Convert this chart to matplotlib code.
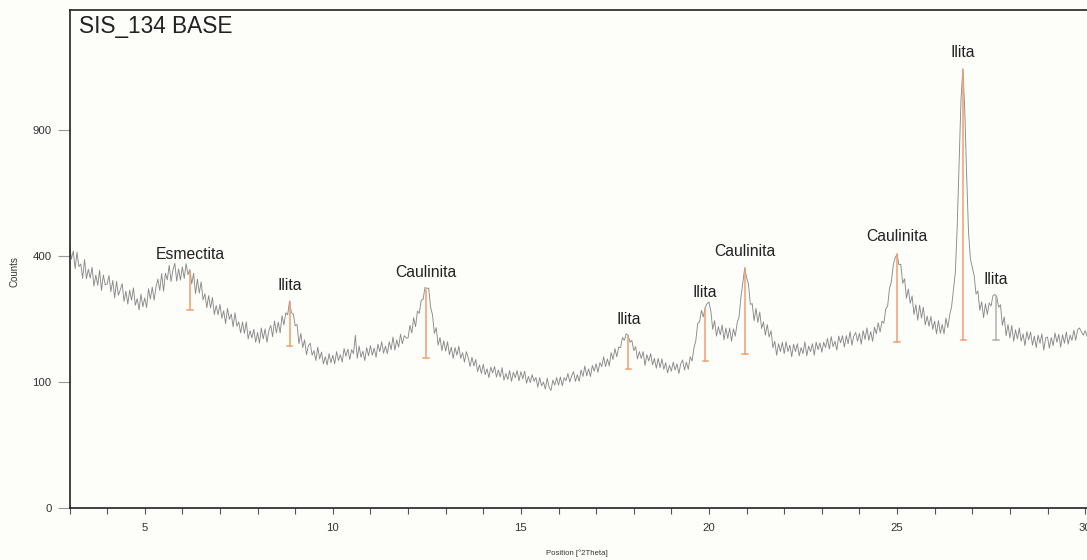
import matplotlib
matplotlib.use("Agg")
import matplotlib.pyplot as plt
import numpy as np

plt.rcParams['font.family'] = ['Liberation Sans', 'DejaVu Sans']

# scan grid (step 0.05 deg 2theta)
two_theta = np.round(np.arange(3.0, 30.051, 0.05), 2)

# counts, one row per degree
counts = [
    445, 390, 416, 361, 412, 367, 375, 332, 389, 331, 359, 333, 365, 310, 342, 312, 356, 298, 342, 314,  # 3
    316, 340, 295, 326, 278, 324, 285, 300, 317, 269, 296, 262, 299, 272, 305, 259, 276, 247, 288, 255,  # 4
    278, 253, 303, 275, 307, 272, 308, 330, 298, 346, 296, 347, 328, 371, 323, 357, 377, 324, 360, 327,  # 5
    366, 332, 376, 343, 358, 316, 347, 289, 330, 291, 322, 273, 289, 253, 284, 252, 279, 236, 258, 235,  # 6
    261, 227, 245, 214, 251, 224, 237, 207, 240, 208, 218, 193, 218, 192, 218, 180, 198, 182, 201, 173,  # 7
    194, 171, 204, 180, 202, 173, 198, 210, 185, 220, 193, 218, 193, 233, 211, 240, 235, 270, 240, 237,  # 8
    209, 212, 170, 192, 162, 178, 148, 166, 171, 147, 156, 137, 163, 140, 153, 131, 144, 129, 150, 133,  # 9
    147, 131, 154, 137, 148, 134, 160, 145, 159, 139, 158, 150, 188, 141, 165, 143, 155, 137, 162, 146,  # 10
    166, 147, 161, 143, 169, 154, 174, 151, 165, 150, 174, 158, 184, 157, 178, 163, 190, 170, 187, 182,  # 11
    182, 210, 193, 228, 207, 244, 239, 272, 274, 306, 304, 304, 254, 235, 192, 205, 167, 183, 156, 176,  # 12
    155, 174, 148, 163, 141, 162, 147, 165, 141, 152, 134, 154, 142, 126, 143, 127, 139, 117, 129, 114,  # 13
    130, 112, 122, 107, 125, 115, 126, 108, 120, 108, 124, 103, 114, 104, 119, 101, 116, 107, 119, 102,  # 14
    117, 105, 118, 98, 109, 99, 112, 101, 107, 92, 107, 94, 100, 89, 106, 92, 87, 103, 95, 107,  # 15
    95, 108, 94, 107, 102, 114, 100, 110, 117, 101, 112, 101, 120, 109, 127, 110, 122, 109, 128, 118,  # 16
    131, 116, 133, 126, 144, 126, 140, 127, 152, 139, 160, 144, 163, 162, 183, 177, 191, 188, 173, 177,  # 17
    156, 164, 140, 154, 141, 154, 128, 148, 136, 150, 129, 141, 123, 141, 124, 140, 121, 133, 115, 128,  # 18
    118, 134, 120, 131, 114, 131, 138, 120, 134, 121, 144, 136, 161, 176, 215, 218, 246, 230, 253, 263,  # 19
    267, 244, 201, 221, 186, 207, 189, 211, 178, 204, 181, 204, 175, 202, 186, 216, 230, 280, 320, 362,  # 20
    335, 316, 261, 263, 221, 251, 217, 242, 203, 218, 188, 212, 184, 198, 162, 175, 147, 170, 154, 173,  # 21
    150, 174, 154, 167, 144, 169, 154, 170, 146, 162, 150, 174, 146, 165, 154, 170, 147, 173, 158, 172,  # 22
    153, 173, 162, 181, 159, 185, 164, 175, 157, 186, 172, 187, 163, 187, 170, 196, 167, 186, 194, 175,  # 23
    192, 169, 198, 179, 204, 177, 196, 175, 206, 191, 216, 195, 220, 215, 250, 257, 304, 323, 372, 395,  # 24
    405, 373, 374, 318, 331, 277, 302, 264, 283, 236, 260, 222, 259, 227, 254, 211, 232, 208, 231, 201,  # 25
    220, 191, 221, 192, 212, 191, 227, 205, 235, 255, 300, 350, 500, 750, 1050, 1215, 1000, 700, 480, 390,  # 26
    365, 340, 288, 297, 246, 268, 228, 263, 236, 265, 257, 284, 287, 282, 254, 260, 210, 230, 187, 212,  # 27
    182, 210, 175, 200, 180, 204, 175, 191, 166, 196, 178, 195, 167, 186, 162, 188, 171, 191, 157, 182,  # 28
    184, 161, 183, 166, 193, 173, 190, 163, 189, 171, 195, 169, 188, 177, 199, 177, 200, 204, 196, 188,  # 29
    198, 186,
]

# identified peaks
peak_pos = [6.2, 8.85, 12.48, 17.86, 19.9, 20.96, 25.0, 26.76, 27.63]
peak_names = ['Esmectita', 'Ilita', 'Caulinita', 'Ilita', 'Ilita', 'Caulinita', 'Caulinita', 'Ilita', 'Ilita']
peak_top = [352, 267, 300, 186, 249, 362, 407, 1210, 281]
peak_base = [246, 166, 142, 121, 136, 149, 173, 177, 178]
peak_colors = ['#f0a070'] * 8 + ['#b0b0b0']

bg = '#fdfdfa'
fig = plt.figure(figsize=(10.87, 5.6), dpi=100, facecolor=bg)
W, H = 1087, 560
ax = fig.add_axes([69.5 / W, 52 / H, (W - 69.5) / W, (508 - 9.5) / H])
ax.set_facecolor(bg)

ax.set_yscale('function', functions=(lambda v: np.sqrt(np.clip(v, 0, None)), lambda v: v ** 2))

ax.plot(two_theta, counts, color='#8a8a8a', lw=0.65)

for x, name, top, base, c in zip(peak_pos, peak_names, peak_top, peak_base, peak_colors):
    ax.plot([x, x], [base, top], color=c, lw=1.1)
    ax.plot([x - 0.07, x + 0.07], [base, base], color=c, lw=1.1)
    ax.annotate(name, (x, top), xytext=(0, 17), textcoords='offset pixels',
                ha='center', va='center', fontsize=11.3, color='#222222')

ax.set_xlim(3, 30.05)
ax.set_ylim(0, 1565)
ax.set_yticks([0, 100, 400, 900])
ax.set_xticks([5, 10, 15, 20, 25, 30])
ax.set_xticks(np.arange(3, 31, 1), minor=True)
ax.tick_params(axis='y', length=9, width=0.8, color='#999999', pad=4, labelsize=8.2, labelcolor='#333333')
ax.tick_params(axis='x', which='both', length=4, width=0.8, color='#555555', pad=7, labelsize=8.2,
               labelcolor='#333333', direction='out')

for s in ['left', 'top', 'bottom']:
    ax.spines[s].set_linewidth(1.2)
    ax.spines[s].set_color('#222222')
ax.spines['right'].set_visible(False)

fig.text(79 / W, 1 - 27 / H, 'SIS_134 BASE', fontsize=16.3, ha='left', va='center', color='#222222')
fig.text(14 / W, 1 - 272 / H, 'Counts', rotation=90, fontsize=7, ha='center', va='center', color='#333333')
fig.text(577 / W, 1 - 553 / H, 'Position [°2Theta]', fontsize=5.6, ha='center', va='center', color='#333333')

fig.savefig('out.png', dpi=100, facecolor=bg)
